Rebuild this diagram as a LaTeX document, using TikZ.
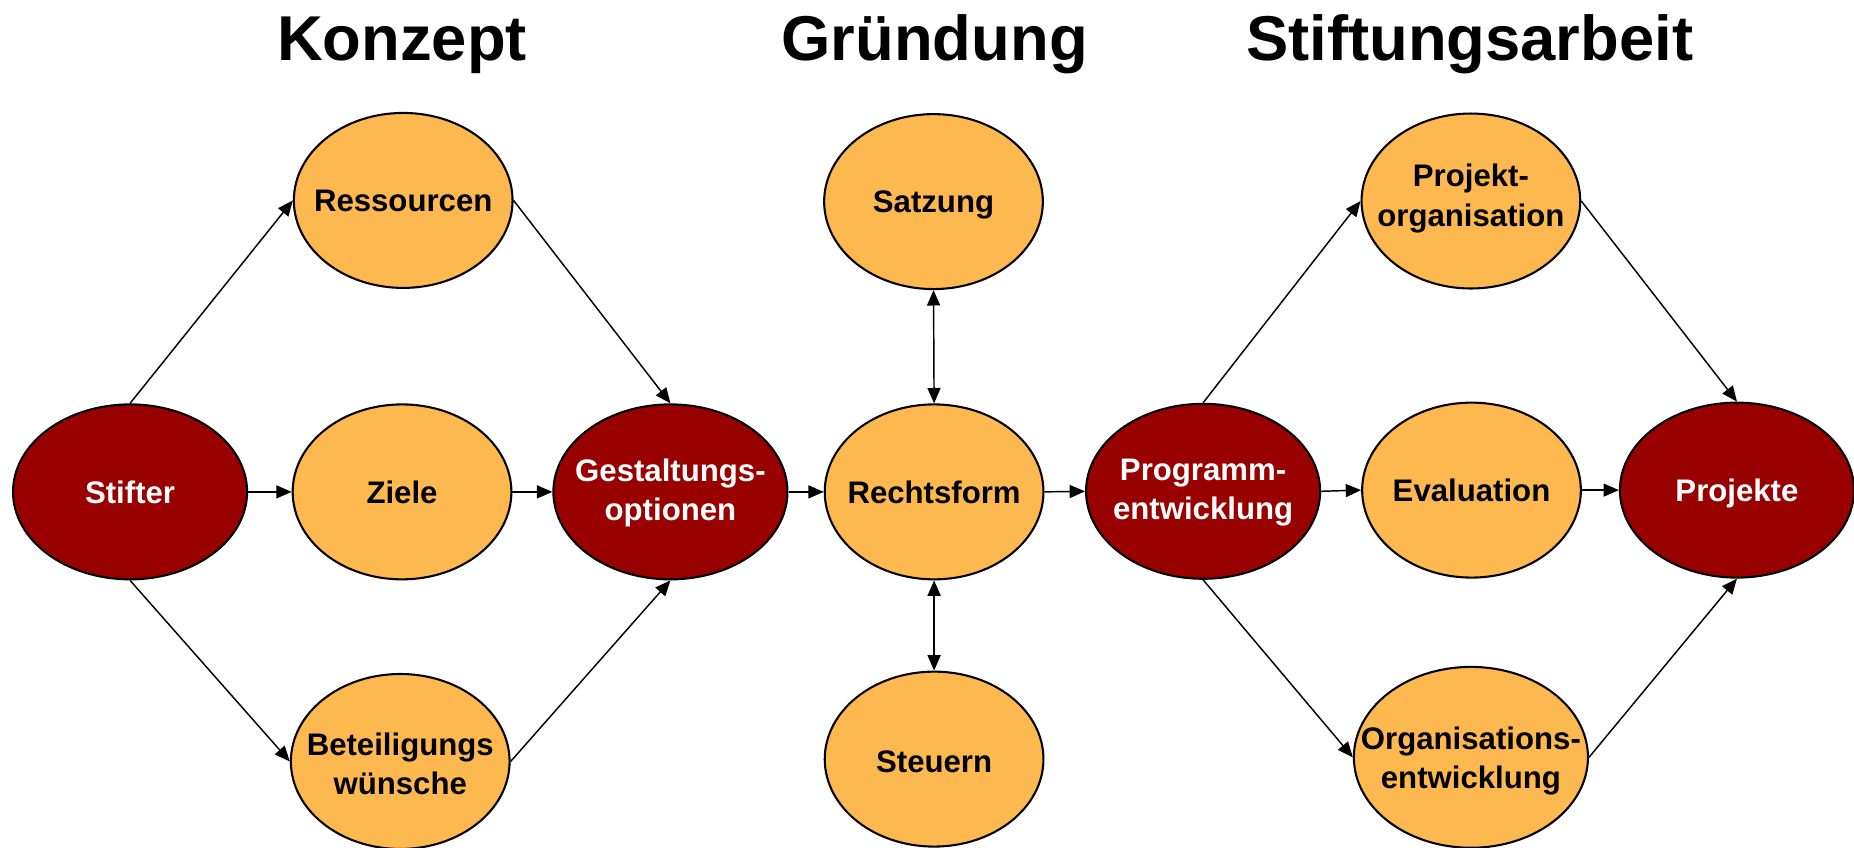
\documentclass[tikz,border=0pt]{standalone}
\usepackage{fontspec}
\setmainfont{Liberation Sans}
\usetikzlibrary{shapes.geometric,arrows.meta}
\definecolor{lorange}{HTML}{FDB94F}
\definecolor{dred}{HTML}{990000}
\begin{document}
\begin{tikzpicture}[x=0.02cm,y=-0.02cm,
  ell/.style={ellipse, draw=black, line width=1pt, inner sep=0pt, minimum width=3.7cm, minimum height=2.96cm, fill=lorange},
  dell/.style={ell, fill=dred, minimum width=3.96cm},
  lab/.style={font=\fontsize{15}{19}\selectfont\bfseries, align=center, inner sep=0pt, text=black},
  wlab/.style={lab, text=white},
  one/.style={text height=10.7pt, text depth=0pt},
  ttl/.style={font=\fontsize{30.5}{36}\selectfont\bfseries, anchor=base, inner sep=0pt},
  arr/.style={line width=0.7pt, -{Triangle[length=2.6mm,width=2.2mm]}},
  darr/.style={line width=0.7pt, {Triangle[length=2.6mm,width=2.2mm]}-{Triangle[length=2.6mm,width=2.2mm]}}
]
\useasboundingbox (0,0) rectangle (1568,717);

% titles
\node[ttl] (tk) at (340,51.5) {Konzept};
\node[ttl] (tg) at (790.5,51.5) {Gründung};
\node[ttl] (ts) at (1243,51) {Stiftungsarbeit};

% ellipses
\node[dell] (stifter) at (110,416) {};
\node[ell] (ress) at (341,169.5) {};
\node[ell] (ziele) at (340,416) {};
\node[ell] (bet) at (338.5,644) {};
\node[dell] (gest) at (567,416) {};
\node[ell] (satz) at (789.5,170.5) {};
\node[ell] (recht) at (790,416) {};
\node[ell] (steu) at (790,642) {};
\node[dell] (prog) at (1017.5,415.5) {};
\node[ell] (projorg) at (1244,170) {};
\node[ell] (eval) at (1244.5,414.5) {};
\node[ell, minimum width=3.96cm, minimum height=3.06cm] (org) at (1244,640.5) {};
\node[dell] (projekte) at (1469,414.5) {};

% labels
\node[wlab, one] (l-stifter) at (stifter) {Stifter};
\node[lab, one] (l-ress) at (ress) {Ressourcen};
\node[lab, one] (l-ziele) at (ziele) {Ziele};
\node[lab] (l-bet) at (338.5,646) {Beteiligungs\\wünsche};
\node[wlab] (l-gest) at (567,417) {Gestaltungs-\\optionen};
\node[lab, one] (l-satz) at (satz) {Satzung};
\node[lab, one] (l-recht) at (recht) {Rechtsform};
\node[lab, one] (l-steu) at (790,644) {Steuern};
\node[wlab] (l-prog) at (1017.5,416.5) {Programm-\\entwicklung};
\node[lab] (l-projorg) at (1244,168) {Projekt-\\organisation};
\node[lab] (l-org) at (1244,643.5) {Organisations-\\entwicklung};
\node[lab, one] (l-eval) at (eval) {Evaluation};
\node[wlab, one] (l-projekte) at (projekte) {Projekte};

% connectors
\draw[arr] (stifter.north) -- (ress.west);
\draw[arr] (ress.east) -- (gest.north);
\draw[arr] (stifter.south) -- (bet.west);
\draw[arr] (bet.east) -- (gest.south);
\draw[arr] (stifter.east) -- (ziele.west);
\draw[arr] (ziele.east) -- (gest.west);
\draw[arr] (gest.east) -- (recht.west);
\draw[darr] (satz.south) -- (recht.north);
\draw[darr] (recht.south) -- (steu.north);
\draw[arr] (recht.east) -- (prog.west);
\draw[arr] (prog.east) -- (eval.west);
\draw[arr] (eval.east) -- (projekte.west);
\draw[arr] (prog.north) -- (projorg.west);
\draw[arr] (projorg.east) -- (projekte.north);
\draw[arr] (prog.south) -- (org.west);
\draw[arr] (org.east) -- (projekte.south);
\end{tikzpicture}
\end{document}
